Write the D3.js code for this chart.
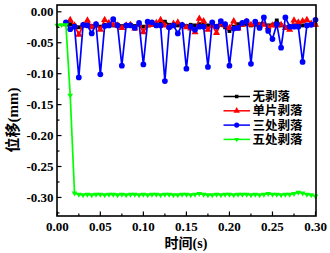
<!DOCTYPE html>
<html><head><meta charset="utf-8">
<script src="https://cdn.jsdelivr.net/npm/d3@7"></script>
<style>
html,body{margin:0;padding:0;background:#fff;}
svg text{font-family:"Liberation Serif","Noto Sans CJK SC",serif;font-weight:bold;}
</style></head>
<body><svg id="c" width="330" height="253"></svg>
<script>
const times = [0.010,0.015,0.020,0.025,0.030,0.035,0.040,0.045,0.050,0.055,
  0.060,0.065,0.070,0.075,0.080,0.085,0.090,0.095,0.100,0.105,
  0.110,0.115,0.120,0.125,0.130,0.135,0.140,0.145,0.150,0.155,
  0.160,0.165,0.170,0.175,0.180,0.185,0.190,0.195,0.200,0.205,
  0.210,0.215,0.220,0.225,0.230,0.235,0.240,0.245,0.250,0.255,
  0.260,0.265,0.270,0.275,0.280,0.285,0.290,0.295,0.300];
const noSpall = [-0.020,-0.020,-0.022,-0.025,-0.022,-0.021,-0.023,-0.022,-0.024,-0.021,
  -0.022,-0.022,-0.021,-0.023,-0.022,-0.021,-0.023,-0.021,-0.024,-0.022,
  -0.021,-0.020,-0.019,-0.016,-0.021,-0.022,-0.022,-0.021,-0.023,-0.021,
  -0.022,-0.020,-0.021,-0.022,-0.021,-0.023,-0.021,-0.025,-0.031,-0.024,
  -0.020,-0.021,-0.020,-0.022,-0.021,-0.020,-0.020,-0.022,-0.021,-0.014,
  -0.022,-0.025,-0.025,-0.022,-0.021,-0.022,-0.021,-0.020,-0.021];
const oneSpall = [-0.020,-0.013,-0.022,-0.037,-0.022,-0.014,-0.025,-0.021,-0.029,-0.013,
  -0.018,-0.021,-0.022,-0.026,-0.022,-0.021,-0.027,-0.020,-0.033,-0.022,
  -0.021,-0.018,-0.013,-0.022,-0.025,-0.019,-0.017,-0.022,-0.025,-0.027,
  -0.033,-0.011,-0.015,-0.029,-0.022,-0.034,-0.019,-0.022,-0.026,-0.015,
  -0.027,-0.021,-0.016,-0.021,-0.019,-0.022,-0.021,-0.025,-0.022,-0.022,
  -0.021,-0.026,-0.029,-0.014,-0.017,-0.015,-0.013,-0.019,-0.021];
const threeSpall = [-0.017,-0.028,-0.024,-0.106,-0.021,-0.022,-0.035,-0.020,-0.101,-0.023,
  -0.022,-0.012,-0.022,-0.087,-0.022,-0.022,-0.026,-0.018,-0.085,-0.016,
  -0.017,-0.022,-0.022,-0.112,-0.025,-0.022,-0.035,-0.021,-0.092,-0.024,
  -0.029,-0.024,-0.024,-0.089,-0.017,-0.024,-0.015,-0.020,-0.087,-0.027,
  -0.026,-0.018,-0.015,-0.084,-0.016,-0.026,-0.009,-0.031,-0.044,-0.020,
  -0.058,-0.009,-0.024,-0.024,-0.024,-0.081,-0.022,-0.021,-0.013];
const timesG = [0.000,0.005,0.010,0.015,0.020,0.025,0.030,0.035,0.040,0.045,
  0.050,0.055,0.060,0.065,0.070,0.075,0.080,0.085,0.090,0.095,
  0.100,0.105,0.110,0.115,0.120,0.125,0.130,0.135,0.140,0.145,
  0.150,0.155,0.160,0.165,0.170,0.175,0.180,0.185,0.190,0.195,
  0.200,0.205,0.210,0.215,0.220,0.225,0.230,0.235,0.240,0.245,
  0.250,0.255,0.260,0.265,0.270,0.275,0.280,0.285,0.290,0.295,0.300];
const fiveSpall = [-0.022,-0.021,-0.021,-0.135,-0.293,-0.295,-0.296,-0.295,-0.296,-0.295,
  -0.295,-0.296,-0.295,-0.295,-0.296,-0.295,-0.296,-0.295,-0.295,-0.296,
  -0.295,-0.296,-0.295,-0.295,-0.296,-0.295,-0.295,-0.296,-0.296,-0.295,
  -0.295,-0.296,-0.295,-0.294,-0.295,-0.296,-0.296,-0.295,-0.296,-0.295,
  -0.295,-0.296,-0.295,-0.295,-0.295,-0.296,-0.295,-0.296,-0.295,-0.294,
  -0.295,-0.295,-0.296,-0.295,-0.295,-0.294,-0.292,-0.293,-0.295,-0.296,-0.298];
const seriesNames = ["无剥落","单片剥落","三处剥落","五处剥落"];
const xTicks = [0.00,0.05,0.10,0.15,0.20,0.25,0.30];
const yTicks = [0.00,-0.05,-0.10,-0.15,-0.20,-0.25,-0.30];
const xLabel = "时间(s)", yLabel = "位移(mm)";

const svg = d3.select("#c");
const L=57, R=316, T=5, B=216;
const x = d3.scaleLinear().domain([0,0.30]).range([57.3,315.5]);
const y = d3.scaleLinear().domain([-0.33,0.011]).range([B,T]);

const series = [
  {name:seriesNames[0], t:times, v:noSpall, color:"#000000", sym:d3.symbolSquare, size:15},
  {name:seriesNames[1], t:times, v:oneSpall, color:"#ff0000", sym:d3.symbolTriangle, size:22},
  {name:seriesNames[2], t:times, v:threeSpall, color:"#0000ff", sym:d3.symbolCircle, size:26},
  {name:seriesNames[3], t:timesG, v:fiveSpall, color:"#00ff00", sym:d3.symbolTriangle, size:14, rot:180}
];
const line = d3.line().x(d=>x(d[0])).y(d=>y(d[1]));
const g = svg.append("g");
series.forEach(s=>{
  const pts = s.t.map((t,i)=>[t,s.v[i]]);
  g.append("path").attr("d",line(pts)).attr("fill","none").attr("stroke",s.color).attr("stroke-width",1.7);
  g.selectAll(null).data(pts).enter().append("path")
    .attr("d",d3.symbol().type(s.sym).size(s.size))
    .attr("transform",d=>`translate(${x(d[0])},${y(d[1])})${s.rot?` rotate(${s.rot})`:""}`)
    .attr("fill",s.color);
});

// frame
svg.append("rect").attr("x",L).attr("y",T).attr("width",R-L).attr("height",B-T)
  .attr("fill","none").attr("stroke","#000").attr("stroke-width",1.6);

// x axis ticks (inward)
const xMinor = d3.range(0,0.3001,0.025);
xMinor.forEach(t=>{
  const major = xTicks.some(v=>Math.abs(v-t)<1e-9);
  if (major) return;
  svg.append("line").attr("x1",x(t)).attr("x2",x(t)).attr("y1",B).attr("y2",B-2.5).attr("stroke","#000").attr("stroke-width",1.2);
});
xTicks.forEach(t=>{
  svg.append("line").attr("x1",x(t)).attr("x2",x(t)).attr("y1",B).attr("y2",B-4.5).attr("stroke","#000").attr("stroke-width",1.2);
  svg.append("text").attr("x",x(t)).attr("y",231).attr("text-anchor","middle").attr("font-size",13).text(t.toFixed(2));
});
const yMinor = d3.range(-0.325,0.001,0.025);
yMinor.forEach(v=>{
  const major = yTicks.some(w=>Math.abs(w-v)<1e-9);
  if (major) return;
  svg.append("line").attr("x1",L).attr("x2",L+2.5).attr("y1",y(v)).attr("y2",y(v)).attr("stroke","#000").attr("stroke-width",1.2);
});
yTicks.forEach(v=>{
  svg.append("line").attr("x1",L).attr("x2",L+4.5).attr("y1",y(v)).attr("y2",y(v)).attr("stroke","#000").attr("stroke-width",1.2);
  svg.append("text").attr("x",53.5).attr("y",y(v)+4.5).attr("text-anchor","end").attr("font-size",13).text(v.toFixed(2));
});
svg.append("text").attr("x",186).attr("y",248).attr("text-anchor","middle").attr("font-size",14).text(xLabel);
svg.append("text").attr("transform","translate(18,120) rotate(-90)").attr("text-anchor","middle").attr("font-size",15).text(yLabel);

// legend
series.forEach((s,i)=>{
  const ly = 96.5 + i*14.3;
  svg.append("line").attr("x1",223.5).attr("x2",250).attr("y1",ly).attr("y2",ly).attr("stroke",s.color).attr("stroke-width",1.5);
  svg.append("path").attr("d",d3.symbol().type(s.sym).size(s.size*0.8))
    .attr("transform",`translate(236.7,${ly})${s.rot?` rotate(${s.rot})`:""}`).attr("fill",s.color);
  svg.append("text").attr("x",252.5).attr("y",ly+4.5).attr("font-size",12.5).text(s.name);
});
</script></body></html>
